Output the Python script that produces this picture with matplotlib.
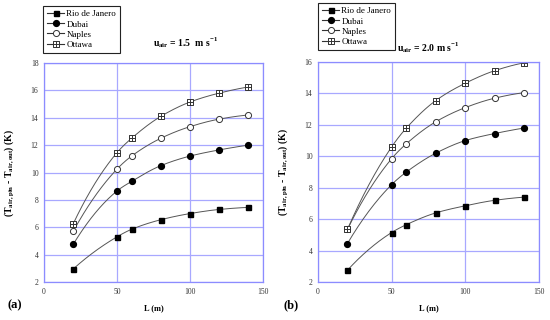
import matplotlib
matplotlib.use("Agg")
import matplotlib.pyplot as plt
from matplotlib.path import Path
import numpy as np

plt.rcParams['font.family'] = ['Liberation Serif', 'DejaVu Serif']

L = [20, 50, 60, 80, 100, 120, 140]
cities = ["Rio de Janero", "Dubai", "Naples", "Ottawa"]

a_rio = [2.95, 5.3, 5.85, 6.55, 7.0, 7.3, 7.45]
a_dubai = [4.75, 8.65, 9.35, 10.5, 11.2, 11.65, 12.0]
a_naples = [5.7, 10.25, 11.2, 12.5, 13.35, 13.9, 14.2]
a_ottawa = [6.25, 11.45, 12.5, 14.1, 15.15, 15.8, 16.25]

b_rio = [2.75, 5.15, 5.65, 6.4, 6.85, 7.2, 7.4]
b_dubai = [4.45, 8.2, 9.0, 10.2, 11.0, 11.45, 11.8]
b_naples = [5.35, 9.85, 10.8, 12.2, 13.1, 13.7, 14.05]
b_ottawa = [5.35, 10.6, 11.8, 13.55, 14.65, 15.45, 15.95]


def pchip(x, y, n=200):
    """Monotone cubic (PCHIP) curve through the data points, for drawing."""
    x = np.asarray(x, float)
    y = np.asarray(y, float)
    h = np.diff(x)
    d = np.diff(y) / h
    m = np.zeros_like(y)
    for k in range(1, len(x) - 1):
        if d[k - 1] * d[k] > 0:
            w1 = 2 * h[k] + h[k - 1]
            w2 = h[k] + 2 * h[k - 1]
            m[k] = (w1 + w2) / (w1 / d[k - 1] + w2 / d[k])
    m0 = ((2 * h[0] + h[1]) * d[0] - h[0] * d[1]) / (h[0] + h[1])
    m[0] = m0 if np.sign(m0) == np.sign(d[0]) else 0
    mn = ((2 * h[-1] + h[-2]) * d[-1] - h[-1] * d[-2]) / (h[-1] + h[-2])
    m[-1] = mn if np.sign(mn) == np.sign(d[-1]) else 0
    xs = np.linspace(x[0], x[-1], n)
    idx = np.clip(np.searchsorted(x, xs) - 1, 0, len(x) - 2)
    t = (xs - x[idx]) / h[idx]
    h00 = 2 * t**3 - 3 * t**2 + 1
    h10 = t**3 - 2 * t**2 + t
    h01 = -2 * t**3 + 3 * t**2
    h11 = t**3 - t**2
    ys = h00 * y[idx] + h10 * h[idx] * m[idx] + h01 * y[idx + 1] + h11 * h[idx] * m[idx + 1]
    return xs, ys


sq_cross = Path(
    [(-1, -1), (1, -1), (1, 1), (-1, 1), (-1, -1), (0, -1), (0, 1), (-1, 0), (1, 0)],
    [Path.MOVETO, Path.LINETO, Path.LINETO, Path.LINETO, Path.CLOSEPOLY,
     Path.MOVETO, Path.LINETO, Path.MOVETO, Path.LINETO])

styles = [
    dict(marker='s', mfc='black', mec='black', ms=3.6),
    dict(marker='o', mfc='black', mec='black', ms=4.2),
    dict(marker='o', mfc='white', mec='#333333', ms=4.4, mew=0.7),
    dict(marker=sq_cross, mfc='white', mec='#333333', ms=4.2, mew=0.7),
]

fig = plt.figure(figsize=(5.5, 3.2), dpi=100)
W, H = 550, 320


def make_panel(box, series, ylim, yticks, title, title_xy, leg_box, letter, letter_xy):
    x0, y0, x1, y1 = box
    ax = fig.add_axes([x0 / W, 1 - y1 / H, (x1 - x0) / W, (y1 - y0) / H])
    handles = []
    for vals, st, name in zip(series, styles, cities):
        xs, ys = pchip(L, vals)
        ax.plot(xs, ys, color='#555555', lw=0.7)
        ax.plot(L, vals, ls='none', **st)
        h, = ax.plot([], [], color='#333333', lw=0.8, label=name, **st)
        handles.append(h)
    ax.set_xlim(0, 150)
    ax.set_ylim(*ylim)
    ax.set_xticks([0, 50, 100, 150])
    ax.set_yticks(yticks)
    ax.grid(True, color='#a8a8ff', lw=0.9)
    ax.set_axisbelow(True)
    for s in ax.spines.values():
        s.set_color('#8c8cff')
        s.set_linewidth(0.9)
    ax.tick_params(length=0, labelsize=5.5, pad=4, colors='#333333')
    ax.set_xlabel('L (m)', fontsize=6, fontweight='bold', labelpad=6)
    ax.set_ylabel(r'(T$_{\mathregular{air,pin}}$ - T$_{\mathregular{air,out}}$) (K)',
                  fontsize=7, fontweight='bold', labelpad=10)
    fig.text(title_xy[0] / W, 1 - title_xy[1] / H, title, fontsize=7,
             fontweight='bold', ha='center', va='center')
    fig.text(letter_xy[0] / W, 1 - letter_xy[1] / H, letter, fontsize=9,
             fontweight='bold', ha='left', va='center')
    lx0, ly0, lx1, ly1 = leg_box
    leg = ax.legend(handles=handles, loc='upper left',
                    bbox_to_anchor=(lx0 / W, 1 - ly0 / H),
                    bbox_transform=fig.transFigure, fontsize=6.5, frameon=True,
                    fancybox=False, edgecolor='#222222', framealpha=1,
                    handlelength=1.9, handletextpad=0.25, labelspacing=0.2,
                    borderpad=0.45, borderaxespad=0)
    leg.get_frame().set_linewidth(0.8)
    return ax


make_panel((44, 63, 263, 282), [a_rio, a_dubai, a_naples, a_ottawa], (2, 18),
           list(range(2, 19, 2)), r'u$_{\mathregular{air}}$ = 1.5  m s$^{\mathregular{-1}}$',
           (185, 43), (43, 6, 122, 53), '(a)', (7, 305))
make_panel((318, 62, 539, 282), [b_rio, b_dubai, b_naples, b_ottawa], (2, 16),
           list(range(2, 17, 2)), r'u$_{\mathregular{air}}$ = 2.0 m s$^{\mathregular{-1}}$',
           (428, 48), (318, 3, 396, 50), '(b)', (283, 305))

fig.savefig('out.png', dpi=100)
